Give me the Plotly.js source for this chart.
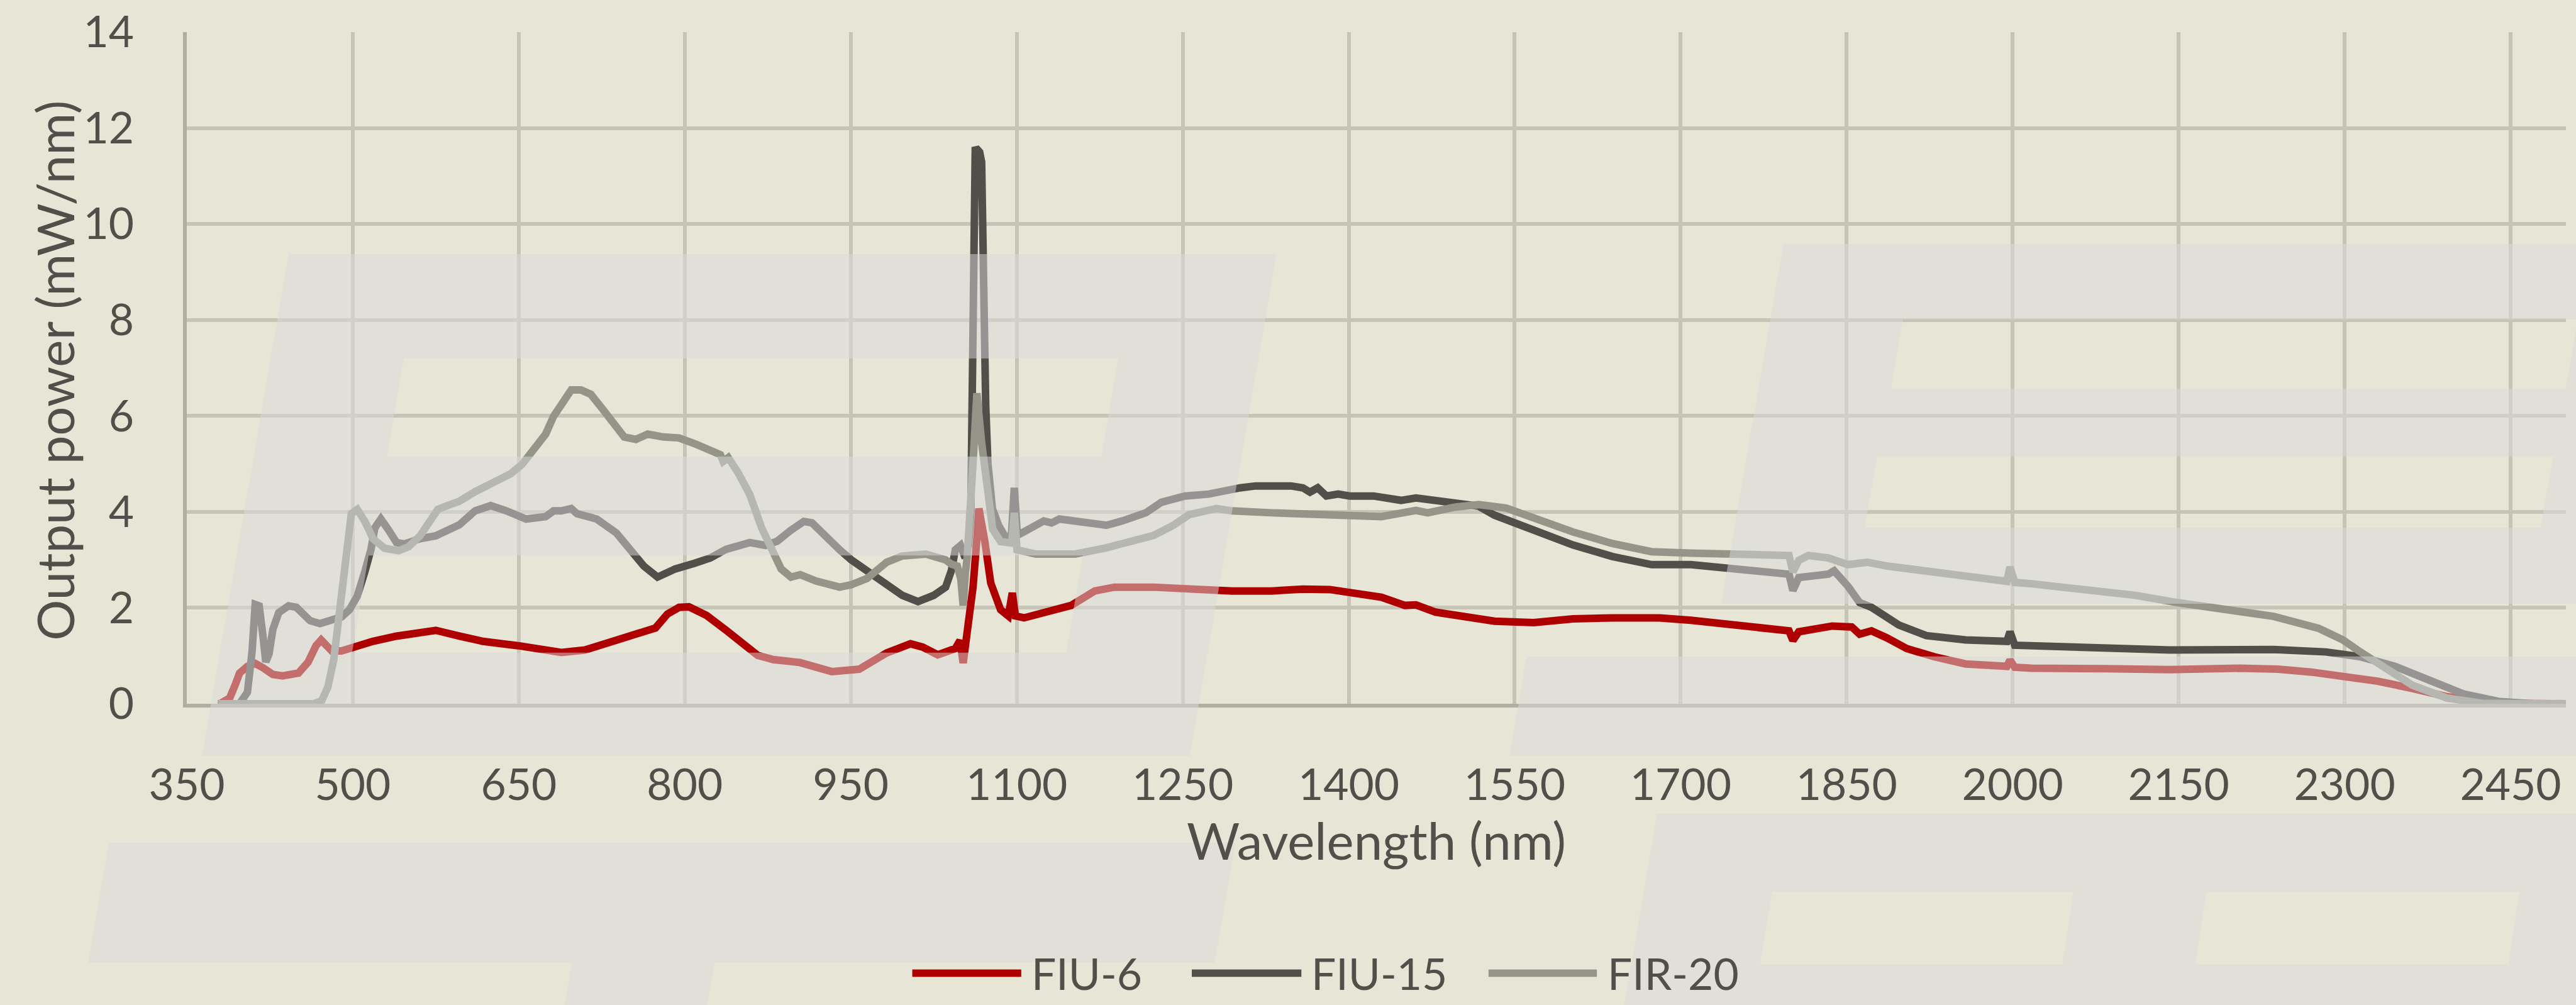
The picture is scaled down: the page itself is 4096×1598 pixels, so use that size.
<!DOCTYPE html>
<html>
<head>
<meta charset="utf-8">
<script src="https://cdn.plot.ly/plotly-3.0.1.min.js"></script>
<style>
html,body{margin:0;padding:0;background:#E7E6D6;overflow:hidden;}
#chart{width:4096px;height:1598px;}
</style>
</head>
<body>
<div id="chart"></div>
<script>
// ---------------- DATA ----------------
const seriesNames = ['FIU-6', 'FIU-15', 'FIR-20'];
const xTicks = [350, 500, 650, 800, 950, 1100, 1250, 1400, 1550, 1700, 1850, 2000, 2150, 2300, 2450];
const yTicks = [0, 2, 4, 6, 8, 10, 12, 14];

const fiu6Wavelength = [380,388.8,394,397.7,404.8,411.8,418.9,427.8,436.7,450.9,459.7,466.8,471.4,481,489.9,500.5,518,539.5,560.8,575,596.3,617.6,649.5,674.3,688.5,709.8,738.2,766.5,773.6,784.3,794.9,803.8,819.8,837.5,855.2,865.9,880,904,932.8,957.6,982.5,1004,1015,1028.6,1044.5,1048.8,1051.6,1057,1060.5,1064.1,1065.8,1071.2,1076.5,1085.4,1092.4,1096,1098.8,1106.6,1135,1149.2,1170.5,1188.2,1223.7,1259.2,1294.7,1330.2,1358.6,1383,1401.1,1429.5,1450.8,1460.8,1478.5,1496.3,1531.8,1567.2,1602.7,1638.2,1680.8,1709.2,1744.6,1797.9,1801.4,1806.7,1836.9,1854.6,1861.7,1872.4,1886.6,1904.3,1929.1,1957.5,1994.8,1997.6,2001.9,2017,2084,2142,2204.8,2240,2270,2298.5,2329.8,2361,2392.3,2423.6,2450,2500];
const fiu6Power = [0,0.12,0.41,0.64,0.78,0.84,0.75,0.61,0.58,0.64,0.87,1.21,1.33,1.10,1.10,1.18,1.30,1.41,1.50,1.53,1.41,1.30,1.21,1.10,1.07,1.12,1.33,1.53,1.58,1.87,2.01,2.02,1.84,1.53,1.18,1.01,0.92,0.86,0.67,0.72,1.06,1.25,1.18,1.02,1.15,1.32,0.85,1.66,2.43,3.47,4.07,3.38,2.52,1.96,1.83,2.31,1.83,1.79,1.96,2.05,2.35,2.43,2.43,2.39,2.35,2.35,2.39,2.38,2.31,2.22,2.05,2.06,1.91,1.84,1.72,1.69,1.77,1.79,1.79,1.74,1.64,1.52,1.32,1.50,1.62,1.60,1.45,1.52,1.37,1.15,0.98,0.83,0.78,0.91,0.76,0.74,0.73,0.71,0.74,0.72,0.66,0.56,0.47,0.32,0.15,0.05,0.01,0];

const fiu15Wavelength = [378,397.7,404.8,409,411.8,415.4,419,421.4,424.3,427.8,433.1,442,449,461.5,470.4,489.9,497,504,511,516.5,520,525.4,532.4,539.5,546.6,560.8,575,596.3,610.5,624.7,638.9,656.6,674.3,681.4,688.5,697.4,702.7,720.4,738.2,752.4,763,775.4,791.4,809.1,823.3,837.5,851.7,858.8,873,883.6,895,907.6,915,925.7,939.9,950.5,964.7,978.9,996.6,1010.8,1025,1035.7,1041,1044.5,1049.2,1053.4,1056.5,1058.5,1060.5,1062.5,1064.5,1066.5,1068.3,1070,1072,1074,1078,1083.6,1088.9,1095,1097.8,1100.6,1106.6,1117.3,1124.4,1131.5,1138.6,1152.8,1181,1195.3,1216.6,1230.8,1252,1273.4,1287.6,1301.8,1316,1347.9,1358.6,1365,1372,1379.8,1390.5,1401,1422.4,1447.3,1460.8,1496.3,1517.3,1531.8,1567.2,1602.7,1638.2,1673.7,1709.2,1741.1,1797.9,1801.4,1806.7,1833.3,1838.7,1851.1,1861.7,1872.4,1897.2,1922,1957.5,1994.8,1997.6,2001.9,2017,2142,2236,2283,2314,2345.4,2376.7,2408,2439,2470,2500];
const fiu15Power = [0,0,0.24,1.09,2.07,2.04,1.38,0.87,1.04,1.55,1.90,2.04,2.01,1.73,1.67,1.81,1.96,2.24,2.76,3.22,3.67,3.85,3.62,3.36,3.33,3.44,3.50,3.73,4.02,4.13,4.02,3.85,3.90,4.02,4.02,4.07,3.96,3.85,3.56,3.16,2.87,2.64,2.81,2.93,3.04,3.22,3.33,3.36,3.30,3.39,3.60,3.80,3.77,3.51,3.21,3.00,2.78,2.52,2.26,2.13,2.26,2.43,2.78,3.21,3.30,3.04,3.30,4.00,8.00,11.54,11.55,11.50,11.29,8.50,6.20,5.00,4.07,3.72,3.51,3.42,4.50,3.51,3.60,3.72,3.81,3.77,3.85,3.81,3.72,3.81,3.98,4.20,4.33,4.37,4.45,4.50,4.54,4.54,4.50,4.41,4.50,4.33,4.37,4.33,4.33,4.24,4.29,4.20,4.12,3.93,3.61,3.31,3.07,2.90,2.90,2.82,2.70,2.36,2.63,2.70,2.77,2.45,2.11,2.01,1.64,1.42,1.33,1.30,1.50,1.22,1.21,1.12,1.13,1.08,0.98,0.78,0.49,0.20,0.05,0,0];

const fir20Wavelength = [378.6,411.8,465,472.1,477.5,482.8,488.1,491.7,495.2,498.7,504.1,511.2,518.3,528.9,541.3,550.2,560.8,569.7,576.8,585.6,596.3,610.5,628.2,642.4,653,663.7,674.3,681.4,690.3,697.4,706.2,715.1,725.8,734.6,745.3,755.9,766.5,780.7,794.9,809.1,823.3,832.2,834.7,839.3,848.1,858.8,869.4,880,887.1,896,904.4,918.6,939.9,950.5,964.7,982.5,996.6,1017.9,1035.7,1041,1046.3,1049.5,1051.6,1053.5,1055.2,1060.5,1064,1068.3,1073,1078.3,1085.4,1092.4,1095.5,1097.8,1100.3,1117.3,1152.8,1181,1206,1223.7,1241.5,1255.7,1280.5,1294.7,1330,1365.6,1401,1429.5,1460.8,1471.4,1496.3,1517.6,1542.4,1567.2,1602.7,1638.2,1673.7,1709.2,1744.6,1797.9,1801.4,1806.7,1815.6,1833.3,1851.1,1868.8,1886.6,1922,1957.5,1994.8,1997.6,2001.9,2017.2,2064,2111,2148.5,2189,2236,2276.7,2298.5,2314.2,2336,2361,2392.3,2423.6,2460,2500];
const fir20Power = [0,0,0,0.07,0.35,0.92,1.96,2.81,3.56,3.96,4.05,3.79,3.44,3.24,3.19,3.27,3.50,3.79,4.05,4.13,4.22,4.42,4.62,4.79,4.99,5.28,5.62,5.99,6.31,6.54,6.54,6.45,6.14,5.85,5.56,5.51,5.62,5.56,5.54,5.42,5.28,5.19,5.05,5.13,4.82,4.36,3.67,3.10,2.81,2.64,2.69,2.56,2.43,2.48,2.61,2.95,3.08,3.12,3.00,2.91,2.87,2.60,2.05,2.70,3.04,5.01,6.47,5.44,4.58,3.64,3.38,3.34,3.35,3.98,3.21,3.12,3.12,3.25,3.38,3.51,3.72,3.94,4.07,4.02,3.98,3.94,3.90,3.90,4.03,3.98,4.10,4.15,4.08,3.88,3.58,3.34,3.17,3.14,3.12,3.09,2.75,2.99,3.09,3.04,2.90,2.95,2.87,2.77,2.65,2.55,2.85,2.53,2.50,2.38,2.26,2.11,1.99,1.82,1.57,1.33,1.08,0.74,0.39,0.12,0.01,0,0];

// ---------------- STYLE / GEOMETRY ----------------
const seriesColors = ['#AE0000', '#504F4A', '#949489'];
const textColor = '#504F4A';
const bgColor = '#E7E6D6';
const gridColor = '#C6C4B6';
const axisLineColor = '#B0AEA0';
const watermarkFill = 'rgba(218,218,218,0.5)';

const S = 0.979;                 // scale from reference pixels to window pixels
const W = 4096, H = 1598;
const PL = 303.6 * S, PR = 4168 * S, PT = 52.3 * S, PB = 1143.4 * S;
const PW = PR - PL, PH = PB - PT;
const fx = X => (X * S - PL) / PW;   // reference px -> paper x
const fy = Y => (PB - Y * S) / PH;   // reference px -> paper y

function poly(pts) {
  return 'M' + pts.map(p => fx(p[0]).toFixed(5) + ',' + fy(p[1]).toFixed(5)).join('L') + 'Z';
}

// background watermark (semi-transparent light slanted letter shapes, drawn over everything)
const wmPaths = [
  poly([[469,413],[2073.6,413],[1932.9,1228],[328.3,1228]]) +
    poly([[656,582.5],[628.5,742],[1789,742],[1816.6,582.5]]) +
    poly([[599,902.5],[572,1060.5],[1731.7,1060.5],[1759,902.5]]),
  poly([[177,1369],[2007,1369],[1973,1564],[1160.7,1564],[1147.6,1640],[915.9,1640],[929,1564],[143.3,1564]]),
  poly([[2897,396],[4300,396],[4300,981],[2796,981]]) +
    poly([[3091,519],[3071.5,632],[4167.5,632],[4187,519]]) +
    poly([[3049,742],[3029,857],[4127,857],[4147,742]]),
  poly([[2480,1066.5],[4300,1066.5],[4300,1228],[2452,1228]]),
  poly([[2692,1322],[4300,1322],[4300,1700],[2626.8,1700]]) +
    poly([[2879,1449],[2859,1566.5],[3350,1566.5],[3368,1449]]) +
    poly([[3584,1449],[3566,1566.5],[4075,1566.5],[4092,1449]])
];

// custom legend (long line samples like the reference)
const legendLineX = [[1482,1659],[1936,2114],[2418,2594]];
const legendTextX = [1674, 2129, 2610];
const legendY = 1581;

const shapes = [];
legendLineX.forEach((lx, i) => {
  shapes.push({type:'line', xref:'paper', yref:'paper', layer:'above',
    x0: fx(lx[0]), x1: fx(lx[1]), y0: fy(legendY), y1: fy(legendY),
    line:{color: seriesColors[i], width: 12 * S}});
});
wmPaths.forEach(p => {
  shapes.push({type:'path', xref:'paper', yref:'paper', layer:'above', path:p,
    fillcolor: watermarkFill, fillrule:'evenodd', line:{width:0}});
});

const annotations = [];
seriesNames.forEach((n, i) => {
  annotations.push({xref:'paper', yref:'paper', x: fx(legendTextX[i]), y: fy(legendY),
    xanchor:'left', yanchor:'middle', showarrow:false, text:n, borderpad:0,
    font:{family:'Lato, sans-serif', size:69.5, color:textColor}});
});
annotations.push({xref:'paper', yref:'paper', x: (86 - PL) / PW, y: fy(602),
  xanchor:'center', yanchor:'middle', showarrow:false, textangle:-90, borderpad:0,
  text:'Output power (mW/nm)', font:{family:'Lato, sans-serif', size:81.5, color:textColor}});

const xs = [fiu6Wavelength, fiu15Wavelength, fir20Wavelength];
const ys = [fiu6Power, fiu15Power, fir20Power];
const traces = seriesNames.map((n, i) => ({
  type:'scatter', mode:'lines', name:n, x: xs[i], y: ys[i], showlegend:false,
  line:{color: seriesColors[i], width: 12, shape:'linear'}
}));

const axisCommon = {
  showgrid:true, gridcolor:gridColor, gridwidth:6,
  showline:true, linecolor:axisLineColor, linewidth:6,
  zeroline:false, ticks:'', automargin:false, fixedrange:true,
  tickfont:{family:'Lato, sans-serif', size:69.5, color:textColor}
};

const layout = {
  width:W, height:H,
  margin:{l:PL, r:W - PR, t:PT, b:H - PB, pad:0},
  paper_bgcolor:bgColor, plot_bgcolor:bgColor,
  showlegend:false,
  font:{family:'Lato, sans-serif', color:textColor},
  xaxis: Object.assign({}, axisCommon, {
    range:[350, 2500], tickmode:'array', tickvals:xTicks, ticktext:xTicks.map(String),
    ticklabelstandoff:64,
    title:{text:'Wavelength (nm)', standoff:19, font:{family:'Lato, sans-serif', size:81.5, color:textColor}}
  }),
  yaxis: Object.assign({}, axisCommon, {
    range:[0, 14], tickmode:'array', tickvals:yTicks, ticktext:yTicks.map(String),
    ticklabelstandoff:64
  }),
  shapes:shapes,
  annotations:annotations
};

const gd = document.getElementById('chart');
Plotly.newPlot(gd, traces, layout, {staticPlot:true, displayModeBar:false}).then(() => {
  const svgs = gd.querySelectorAll('svg.main-svg');
  const above = svgs[0].querySelector('g.layer-above');
  if (svgs.length > 1 && above) svgs[1].appendChild(above);
});
</script>
</body>
</html>
